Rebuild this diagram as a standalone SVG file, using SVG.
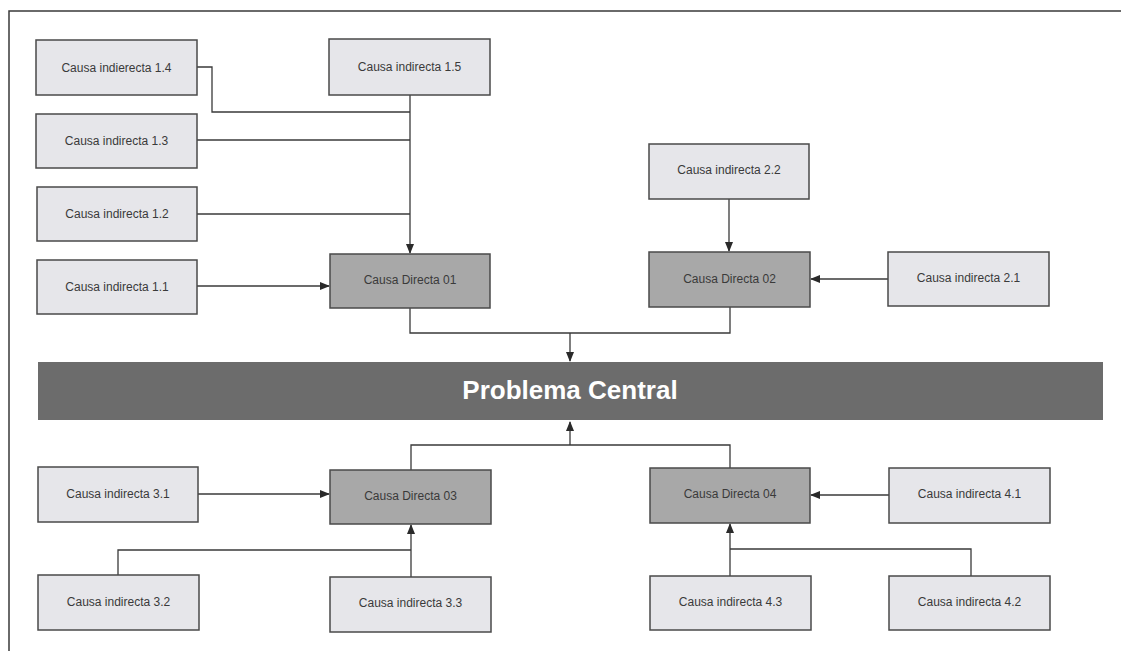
<svg xmlns="http://www.w3.org/2000/svg" width="1121" height="651" viewBox="0 0 1121 651">
<style>
.ind{fill:#e6e6ea;stroke:#4a4a4a;stroke-width:1.5}
.dir{fill:#a8a8a8;stroke:#4a4a4a;stroke-width:1.5}
.band{fill:#6c6c6c}
.t{font-family:"Liberation Sans",Arial,sans-serif;font-size:12px;fill:#3a3a3a;text-anchor:middle;dominant-baseline:central}
.tc{font-family:"Liberation Sans",Arial,sans-serif;font-size:26px;font-weight:bold;fill:#ffffff;text-anchor:middle;dominant-baseline:central}
.c{fill:none;stroke:#3a3a3a;stroke-width:1.3}
.frame{fill:none;stroke:#3a3a3a;stroke-width:1.5}
</style>
<defs>
<marker id="ah" markerUnits="userSpaceOnUse" markerWidth="10" markerHeight="8" refX="9" refY="4" orient="auto">
<path d="M0,0 L10,4 L0,8 Z" fill="#2a2a2a"/>
</marker>
</defs>
<rect width="1121" height="651" fill="#ffffff"/>
<path class="frame" d="M9,651 V11 H1121"/>

<g id="connectors">
<path class="c" d="M410,95 V253" marker-end="url(#ah)"/>
<path class="c" d="M197,67 H212 V112 H410"/>
<path class="c" d="M197,140 H410"/>
<path class="c" d="M197,214 H410"/>
<path class="c" d="M197,286 H329" marker-end="url(#ah)"/>
<path class="c" d="M729,199 V251" marker-end="url(#ah)"/>
<path class="c" d="M888,279 H811" marker-end="url(#ah)"/>
<path class="c" d="M410,307 V333 H730 V307"/>
<path class="c" d="M570,333 V361" marker-end="url(#ah)"/>
<path class="c" d="M411,470 V445 H730 V468"/>
<path class="c" d="M570,445 V422" marker-end="url(#ah)"/>
<path class="c" d="M198,494 H329" marker-end="url(#ah)"/>
<path class="c" d="M118,575 V550 H411"/>
<path class="c" d="M411,577 V525" marker-end="url(#ah)"/>
<path class="c" d="M889,495 H811" marker-end="url(#ah)"/>
<path class="c" d="M730,576 V524" marker-end="url(#ah)"/>
<path class="c" d="M971,576 V549 H730"/>
</g>

<g id="ci14"><rect class="ind" x="36" y="40" width="161" height="55"/><text class="t" x="116.5" y="67.5">Causa indierecta 1.4</text></g>
<g id="ci15"><rect class="ind" x="329" y="39" width="161" height="56"/><text class="t" x="409.5" y="67">Causa indirecta 1.5</text></g>
<g id="ci13"><rect class="ind" x="36" y="114" width="161" height="54"/><text class="t" x="116.5" y="141">Causa indirecta 1.3</text></g>
<g id="ci12"><rect class="ind" x="37" y="187" width="160" height="54"/><text class="t" x="117" y="214">Causa indirecta 1.2</text></g>
<g id="ci11"><rect class="ind" x="37" y="260" width="160" height="54"/><text class="t" x="117" y="287">Causa indirecta 1.1</text></g>
<g id="cd01"><rect class="dir" x="330" y="254" width="160" height="54"/><text class="t" x="410" y="280">Causa Directa 01</text></g>

<g id="ci22"><rect class="ind" x="649" y="144" width="160" height="55"/><text class="t" x="729" y="170">Causa indirecta 2.2</text></g>
<g id="cd02"><rect class="dir" x="649" y="252" width="161" height="55"/><text class="t" x="729.5" y="279">Causa Directa 02</text></g>
<g id="ci21"><rect class="ind" x="888" y="252" width="161" height="54"/><text class="t" x="968.5" y="278">Causa indirecta 2.1</text></g>

<g id="problema"><rect class="band" x="38" y="362" width="1065" height="58"/><text class="tc" x="570" y="390">Problema Central</text></g>

<g id="ci31"><rect class="ind" x="38" y="467" width="160" height="55"/><text class="t" x="118" y="494">Causa indirecta 3.1</text></g>
<g id="cd03"><rect class="dir" x="330" y="470" width="161" height="54"/><text class="t" x="410.5" y="496">Causa Directa 03</text></g>
<g id="ci32"><rect class="ind" x="38" y="575" width="161" height="55"/><text class="t" x="118.5" y="602">Causa indirecta 3.2</text></g>
<g id="ci33"><rect class="ind" x="330" y="577" width="161" height="55"/><text class="t" x="410.5" y="603">Causa indirecta 3.3</text></g>

<g id="cd04"><rect class="dir" x="650" y="468" width="160" height="55"/><text class="t" x="730" y="494">Causa Directa 04</text></g>
<g id="ci41"><rect class="ind" x="889" y="468" width="161" height="55"/><text class="t" x="969.5" y="494">Causa indirecta 4.1</text></g>
<g id="ci43"><rect class="ind" x="650" y="576" width="161" height="54"/><text class="t" x="730.5" y="602">Causa indirecta 4.3</text></g>
<g id="ci42"><rect class="ind" x="889" y="576" width="161" height="54"/><text class="t" x="969.5" y="602">Causa indirecta 4.2</text></g>
</svg>
